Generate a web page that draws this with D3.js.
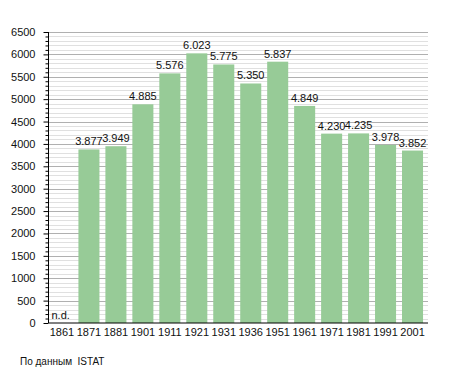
<!DOCTYPE html>
<html><head><meta charset="utf-8">
<script src="https://cdn.jsdelivr.net/npm/d3@7"></script>
<style>body{margin:0;background:#fff}svg{display:block;font-family:"Liberation Sans",Arial,sans-serif}</style>
</head><body><svg id="c" width="455" height="373"></svg>
<script>
const years = ["1861","1871","1881","1901","1911","1921","1931","1936","1951","1961","1971","1981","1991","2001"];
const population = [null,3877,3949,4885,5576,6023,5775,5350,5837,4849,4230,4235,3978,3852];
const labels = ["n.d.","3.877","3.949","4.885","5.576","6.023","5.775","5.350","5.837","4.849","4.230","4.235","3.978","3.852"];
const yTicks = d3.range(0, 6501, 500);
const minorTicks = d3.range(0, 6501, 100);

(function(){
const svg = d3.select("#c");
const mL = 48.5, mR = 426, mT = 32, mB = 323;
const x = d3.scaleBand().domain(years).range([mL, mR]).paddingInner(0.22).paddingOuter(0.11);
const y = d3.scaleLinear().domain([0, 6500]).range([mB, mT]);

svg.append("g").selectAll("line").data(minorTicks.filter(d => d % 500 !== 0)).join("line")
  .attr("x1", mL).attr("x2", mR + 2).attr("y1", d => Math.round(y(d)) + 0.5).attr("y2", d => Math.round(y(d)) + 0.5)
  .attr("stroke", "#e0e0e0").attr("stroke-width", 1);
svg.append("g").selectAll("line").data(yTicks.filter(d => d > 0)).join("line")
  .attr("x1", mL).attr("x2", mR + 2).attr("y1", d => Math.round(y(d)) + 0.5).attr("y2", d => Math.round(y(d)) + 0.5)
  .attr("stroke", "#b0b0b0").attr("stroke-width", 1);

svg.append("g").selectAll("rect").data(years.map((yr, i) => ({yr, v: population[i]})).filter(d => d.v != null)).join("rect")
  .attr("x", d => x(d.yr)).attr("width", x.bandwidth())
  .attr("y", d => y(d.v)).attr("height", d => y(0) - y(d.v))
  .attr("fill", "#97cb97");

svg.append("g").selectAll("text").data(years.map((yr, i) => ({yr, v: population[i], t: labels[i]}))).join("text")
  .attr("x", d => d.v == null ? mL + 3 : x(d.yr) + x.bandwidth() / 2)
  .attr("y", d => d.v == null ? y(0) - 4 : y(d.v) - 4)
  .attr("text-anchor", d => d.v == null ? "start" : "middle")
  .attr("font-size", 11).attr("fill", "#111")
  .text(d => d.t);

const yAxis = svg.append("g").attr("transform", `translate(${mL},0)`)
  .call(d3.axisLeft(y).tickValues(yTicks).tickSize(5).tickPadding(8).tickFormat(d3.format("d")));
yAxis.selectAll("text").attr("font-size", 11).attr("fill", "#111").attr("font-family", "Liberation Sans, Arial, sans-serif");
yAxis.selectAll("line,path").attr("stroke", "#000");
yAxis.select(".domain").attr("d", `M0,${mT}V${mB}`);
svg.append("g").attr("transform", `translate(${mL},0)`)
  .call(d3.axisLeft(y).tickValues(minorTicks.filter(d => d % 500 !== 0)).tickSize(3).tickFormat(""))
  .call(g => g.select(".domain").remove())
  .selectAll("line").attr("stroke", "#000");

const xAxis = svg.append("g").attr("transform", `translate(0,${mB})`)
  .call(d3.axisBottom(x).tickSize(0).tickPadding(5));
xAxis.select(".domain").attr("d", `M${mL},0H${mR + 2}`).attr("stroke", "#000");
xAxis.selectAll("text").attr("font-size", 11).attr("fill", "#111").attr("font-family", "Liberation Sans, Arial, sans-serif");

svg.append("text").attr("x", 20).attr("y", 365).attr("font-size", 10).attr("fill", "#111").attr("xml:space", "preserve").text("По данным  ISTAT");
})();
</script></body></html>
